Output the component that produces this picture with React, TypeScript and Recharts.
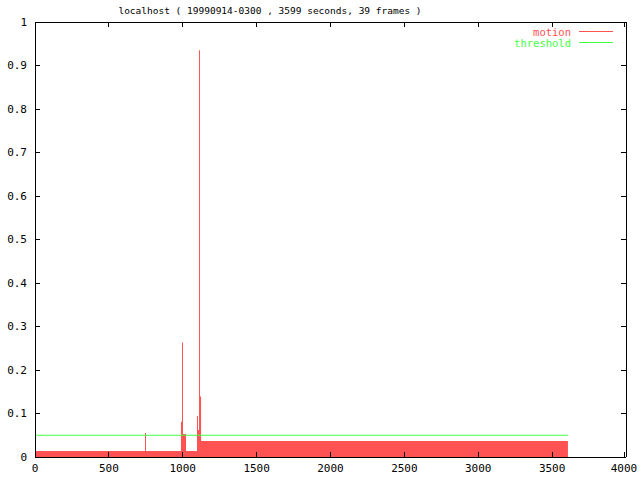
import { ComposedChart, Area, Line, XAxis, YAxis, Legend } from 'recharts';

const title = 'localhost ( 19990914-0300 , 3599 seconds, 39 frames )';

// step breakpoints: seconds -> motion level from that second on
const motionSeconds = [0, 744.5, 751.3, 988, 995, 1001.7, 1022, 1096.4, 1103.2, 1110.2, 1117, 1124, 3607];
const motionLevels = [0.0138, 0.055, 0.0138, 0.081, 0.263, 0.053, 0.0138, 0.094, 0.062, 0.935, 0.139, 0.037, 0.037];
const thresholdLevel = 0.05;

const xTicks = [0, 500, 1000, 1500, 2000, 2500, 3000, 3500, 4000];
const yTicks = [0, 0.1, 0.2, 0.3, 0.4, 0.5, 0.6, 0.7, 0.8, 0.9, 1];

const RED = '#ff5252';
const GREEN = '#44ff44';
const FONT = '"DejaVu Sans Mono", monospace';

const rows = motionSeconds.map((t, i) => ({ t, motion: motionLevels[i], threshold: thresholdLevel }));

const crisp = { shapeRendering: 'crispEdges' } as const;

const BottomTick = ({ x, y, payload }: any) => (
    <g>
        <line x1={x} y1={y} x2={x} y2={y - 5} stroke="#000" {...crisp} />
        <text x={x} y={y + 11} textAnchor="middle" dominantBaseline="central" fontFamily={FONT} fontSize={11} fill="#000">
            {payload.value}
        </text>
    </g>
);

const LeftTick = ({ x, y, payload }: any) => (
    <g>
        <line x1={x} y1={y} x2={x + 5} y2={y} stroke="#000" {...crisp} />
        <text x={x - 8} y={y} textAnchor="end" dominantBaseline="central" fontFamily={FONT} fontSize={11} fill="#000">
            {payload.value}
        </text>
    </g>
);

const TopTick = ({ x, y }: any) => <line x1={x} y1={y} x2={x} y2={y + 5} stroke="#000" {...crisp} />;
const RightTick = ({ x, y }: any) => <line x1={x} y1={y} x2={x - 5} y2={y} stroke="#000" {...crisp} />;

const LegendBox = () => (
    <svg width={130} height={26}>
        <text x={81} y={6.5} textAnchor="end" dominantBaseline="central" fontFamily={FONT} fontSize={10.5} fill={RED}>motion</text>
        <line x1={89} x2={123} y1={6.5} y2={6.5} stroke={RED} />
        <text x={81} y={17.5} textAnchor="end" dominantBaseline="central" fontFamily={FONT} fontSize={10.5} fill={GREEN}>threshold</text>
        <line x1={89} x2={123} y1={17.5} y2={17.5} stroke={GREEN} />
    </svg>
);

export default function App() {
    return (
        <div style={{ position: 'absolute', left: 0, top: 0, width: 640, height: 480, background: '#fff' }}>
            <div style={{ position: 'absolute', left: 0, top: 5, width: 540, textAlign: 'center', fontFamily: FONT, fontSize: 9.5, lineHeight: '11px', color: '#000' }}>
                {title}
            </div>
            <ComposedChart width={640} height={480} data={rows} margin={{ top: 21, right: 13, bottom: 0, left: 0 }}>
                <XAxis dataKey="t" type="number" domain={[0, 4000]} ticks={xTicks} height={23}
                    tickSize={0} tickMargin={0} tickLine={false} axisLine={{ stroke: '#000', ...crisp }} tick={<BottomTick />} />
                <XAxis xAxisId="top" dataKey="t" orientation="top" type="number" domain={[0, 4000]} ticks={xTicks} height={1}
                    tickSize={0} tickMargin={0} tickLine={false} axisLine={{ stroke: '#000', ...crisp }} tick={<TopTick />} />
                <YAxis type="number" domain={[0, 1]} ticks={yTicks} width={35}
                    tickSize={0} tickMargin={0} tickLine={false} axisLine={{ stroke: '#000', ...crisp }} tick={<LeftTick />} />
                <YAxis yAxisId="right" orientation="right" type="number" domain={[0, 1]} ticks={yTicks} width={1}
                    tickSize={0} tickMargin={0} tickLine={false} axisLine={{ stroke: '#000', ...crisp }} tick={<RightTick />} />
                <Legend layout="vertical" align="center" verticalAlign="middle" content={<LegendBox />}
                    wrapperStyle={{ left: 490, top: 25, width: 130, height: 26 }} />
                <Area dataKey="motion" name="motion" type="stepAfter" fill={RED} fillOpacity={1} stroke="none"
                    dot={false} activeDot={false} isAnimationActive={false} />
                <Line xAxisId="top" yAxisId="right" dataKey="threshold" name="threshold" type="linear" stroke={GREEN} strokeWidth={1.2}
                    dot={false} activeDot={false} isAnimationActive={false} />
            </ComposedChart>
        </div>
    );
}
